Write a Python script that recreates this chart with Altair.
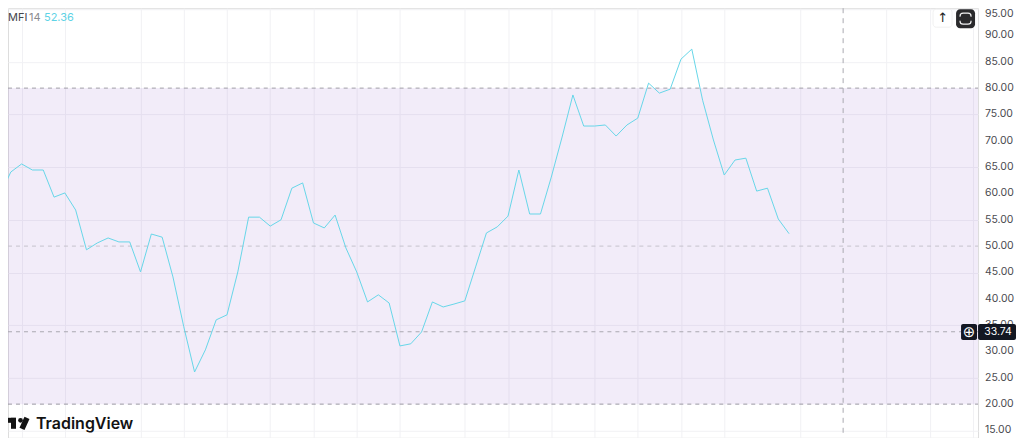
import altair as alt
import pandas as pd

mfi = [59.7,64.07,65.6,64.45,64.45,59.3,60.1,56.85,49.3,50.6,51.55,50.8,50.8,45.1,52.3,51.7,44.15,34.7,26.1,30.3,
       36.0,36.95,45.1,55.5,55.5,53.8,55.0,61.0,62.0,54.4,53.45,55.9,49.65,45.1,39.4,40.75,39.2,31.05,31.45,33.7,
       39.4,38.45,39.0,39.6,46.05,52.5,53.65,55.7,64.45,56.1,56.1,63.1,70.7,78.7,72.8,72.8,73.0,70.9,73.0,74.3,
       80.95,79.05,79.8,85.5,87.4,77.7,70.15,63.5,66.35,66.7,60.45,61.0,55.15,52.36]
bars = list(range(len(mfi)))
grid_bars = [2,6,13,17,21,25,29,33,37,43,47,51,55,59,63,67,74,82,86,90]
price_ticks = list(range(15, 100, 5))
band = [20, 80]
mid_level = 50
cross_price = 33.74
cross_bar = 78

X_DOM = [0.74, 90.48]
Y_DOM = [13.61, 95.17]
xs = alt.Scale(domain=X_DOM, nice=False, zero=False)
ys = alt.Scale(domain=Y_DOM, nice=False, zero=False)
one = pd.DataFrame({"a": [0]})
W = 971

def box(x, x2, y, y2, fill, stroke=None, radius=0, sw=1):
    kw = dict(fill=fill, cornerRadius=radius, strokeWidth=sw)
    if stroke:
        kw["stroke"] = stroke
    return alt.Chart(one).mark_rect(**kw).encode(
        x=alt.value(x), x2=alt.value(x2), y=alt.value(y), y2=alt.value(y2))

def label(s, x, y, color, size=11, align="left", weight=400, font="Inter"):
    return alt.Chart(one).mark_text(text=s, color=color, fontSize=size, align=align, baseline="middle",
                                    fontWeight=weight, font=font).encode(x=alt.value(x), y=alt.value(y))

band_layer = alt.Chart(pd.DataFrame({"lo": [band[0]], "hi": [band[1]]})).mark_rect(
    color="#7d41c3", opacity=0.1).encode(
    x=alt.value(0), x2=alt.value(W),
    y=alt.Y("lo:Q", scale=ys, title=None, axis=alt.Axis(
        orient="right", values=price_ticks, grid=True, gridColor="#f1f1f4", gridWidth=1,
        domain=False, ticks=False, labels=False)),
    y2="hi:Q")

def price_labels(ticks, baseline):
    df = pd.DataFrame({"p": ticks, "t": [f"{v:.2f}" for v in ticks]})
    return alt.Chart(df).mark_text(align="left", baseline=baseline, font="Inter", fontSize=10.5,
                                   color="#4a4a4f").encode(
        x=alt.value(978), y=alt.Y("p:Q", scale=ys), text="t:N")

def level(v, color):
    return alt.Chart(pd.DataFrame({"v": [v]})).mark_rule(color=color, strokeWidth=1, strokeDash=[4, 4]).encode(
        y=alt.Y("v:Q", scale=ys), x=alt.value(0), x2=alt.value(W))

line = alt.Chart(pd.DataFrame({"bar": bars, "mfi": mfi})).mark_line(
    color="#66d6e8", strokeWidth=1, clip=True, interpolate="linear").encode(
    x=alt.X("bar:Q", scale=xs, title=None, axis=alt.Axis(
        values=grid_bars, grid=True, gridColor="#f1f1f4", gridWidth=1, labels=False, ticks=False, domain=False)),
    y=alt.Y("mfi:Q", scale=ys))

cross_v = alt.Chart(pd.DataFrame({"b": [cross_bar]})).mark_rule(
    color="#a9a9b0", strokeWidth=1, strokeDash=[5, 5]).encode(x=alt.X("b:Q", scale=xs))

chart = alt.layer(
    band_layer,
    level(band[1], "#a09ea6"),
    level(band[0], "#9b99a2"),
    level(mid_level, "#c6c3cc"),
    level(cross_price, "#aaa8b0"),
    cross_v,
    line,
    price_labels(price_ticks[:-1], "middle"),
    price_labels(price_ticks[-1:], "top"),
    # legend
    label("MFI", 0, 10, "#45454a"),
    label("14", 21, 10, "#8a8a8f"),
    label("52.36", 36, 10, "#5fd3e6"),
    # top-right buttons
    box(926, 945, 1, 19, "#ffffff", "#f0f0f0", 3),
    label("↑", 935.5, 10, "#222222", 13, "center", font="DejaVu Sans"),
    box(949, 968, 1, 20, "#2a2a2c", None, 4),
    box(953, 964, 5, 16, "#2a2a2c", "#f2f2f2", 3, 1.2),
    box(951, 966, 8.5, 12.5, "#2a2a2c"),
    # crosshair price tag
    box(954, 970, 316, 332, "#131722", None, 2),
    label("⊕", 962, 324, "#ffffff", 15, "center", font="DejaVu Sans"),
    box(971, 1009, 316, 332, "#131722", None, 2),
    label("33.74", 991, 324, "#ffffff", 10.5, "center"),
    # logo
    box(0, 8, 410, 415, "#131313"),
    box(3, 8, 410, 421, "#131313"),
    alt.Chart(one).mark_circle(color="#131313", opacity=1, size=22).encode(x=alt.value(12.5), y=alt.value(412.5)),
    alt.Chart(one).mark_rule(color="#131313", strokeWidth=5.5).encode(
        x=alt.value(19), x2=alt.value(14), y=alt.value(410), y2=alt.value(421)),
    label("TradingView", 28, 416, "#131313", 16, weight=600),
).properties(
    width=W, height=430,
    autosize=alt.AutoSizeParams(type="none"),
    padding={"left": 0, "top": 0, "right": 38, "bottom": 0},
).configure_view(stroke=None).configure(background="#ffffff")

chart.save("out.html", embed_options={"renderer": "svg", "actions": False})
